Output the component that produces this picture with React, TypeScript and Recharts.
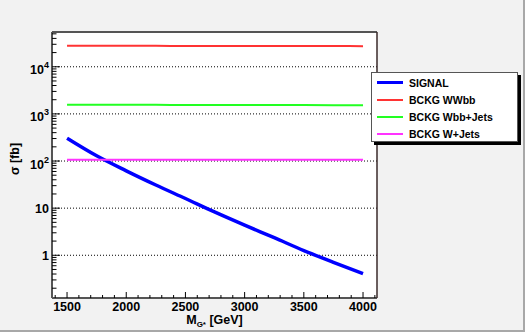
import React from 'react';
import { LineChart, Line, XAxis, YAxis, CartesianGrid, ReferenceLine, Legend } from 'recharts';

const masses = [1500, 1750, 2000, 2250, 2500, 2750, 3000, 3250, 3500, 3750, 4000];
const signal = [305, 129, 62, 31, 16, 8.2, 4.35, 2.36, 1.26, 0.71, 0.41];
const bckgWWbb = [28000, 27900, 27800, 27800, 27700, 27700, 27600, 27600, 27500, 27500, 27400];
const bckgWbbJets = [1570, 1565, 1560, 1555, 1550, 1550, 1545, 1540, 1540, 1535, 1530];
const bckgWJets = [106, 106, 106, 106, 106, 106, 106, 106, 106, 106, 106];

const xMajorTicks = [1500, 2000, 2500, 3000, 3500, 4000];
const xMinorTicks = [1400, 1600, 1700, 1800, 1900, 2100, 2200, 2300, 2400, 2600, 2700, 2800, 2900, 3100, 3200, 3300, 3400, 3600, 3700, 3800, 3900, 4100];
const yMajorTicks = [1, 10, 100, 1000, 10000];
const yMajorBase = ['1', '10', '10', '10', '10'];
const yMajorExp = ['', '', '2', '3', '4'];
const yDecades = [0.1, 1, 10, 100, 1000, 10000];
const yMultipliers = [2, 3, 4, 5, 6, 7, 8, 9];

const xDomain = [1373, 4118];
const yDomain = [0.124, 54700];

const yMinorTicks = yDecades
  .flatMap((d) => yMultipliers.map((k) => d * k))
  .filter((v) => v > yDomain[0] && v < yDomain[1]);

const series = [
  { key: 'signal', name: 'SIGNAL', color: '#0000ff', width: 3.5 },
  { key: 'wwbb', name: 'BCKG WWbb', color: '#ff3333', width: 2 },
  { key: 'wbbjets', name: 'BCKG Wbb+Jets', color: '#22ff22', width: 2 },
  { key: 'wjets', name: 'BCKG W+Jets', color: '#ff33ff', width: 2 },
];

const data = masses.map((m, i) => ({
  mass: m,
  signal: signal[i],
  wwbb: bckgWWbb[i],
  wbbjets: bckgWbbJets[i],
  wjets: bckgWJets[i],
}));

const FONT = '"Liberation Sans", Arial, Helvetica, sans-serif';

const PLOT_LEFT = 52;
const PLOT_BOTTOM = 298;

const YTick = (props: any) => {
  const { y, payload } = props;
  const x = PLOT_LEFT;
  const idx = yMajorTicks.indexOf(payload.value);
  const major = idx >= 0;
  const hasExp = major && yMajorExp[idx] !== '';
  return (
    <g>
      <line x1={x} x2={x + (major ? 8 : 4.5)} y1={y} y2={y} stroke="#000" strokeWidth={1} />
      {major && (
        <text
          x={x - 3}
          y={y + (hasExp ? 7.5 : 4.5)}
          textAnchor="end"
          fontFamily={FONT}
          fontWeight="bold"
          fontSize={12.5}
          fill="#000"
        >
          <tspan>{yMajorBase[idx]}</tspan>
          {hasExp && (
            <tspan dy={-6} fontSize={9}>
              {yMajorExp[idx]}
            </tspan>
          )}
        </text>
      )}
    </g>
  );
};

const XTick = (props: any) => {
  const { x, payload } = props;
  const y = PLOT_BOTTOM;
  const major = xMajorTicks.indexOf(payload.value) >= 0;
  return (
    <g>
      <line x1={x} x2={x} y1={y} y2={y - (major ? 6 : 3)} stroke="#000" strokeWidth={1} />
      {major && (
        <text
          x={x}
          y={y + 13}
          textAnchor="middle"
          fontFamily={FONT}
          fontWeight="bold"
          fontSize={12.5}
          fill="#000"
        >
          {payload.value}
        </text>
      )}
    </g>
  );
};

const XLabel = (props: any) => {
  const vb = props.viewBox || {};
  const cx = vb.x + vb.width / 2;
  return (
    <text x={cx} y={PLOT_BOTTOM + 25.5} textAnchor="middle" fontFamily={FONT} fontWeight="bold" fontSize={12.5} fill="#000">
      <tspan>M</tspan>
      <tspan dy={3.5} fontSize={8}>G*</tspan>
      <tspan dy={-3.5}> [GeV]</tspan>
    </text>
  );
};

const YLabel = () => {
  const x = 19;
  const y = 159;
  return (
    <text
      x={x}
      y={y}
      transform={`rotate(-90 ${x} ${y})`}
      textAnchor="middle"
      fontFamily={FONT}
      fontWeight="bold"
      fontSize={12.5}
      fill="#000"
    >
      σ [fb]
    </text>
  );
};

const LegendBox = () => (
  <div
    style={{
      position: 'relative',
      width: 147,
      height: 70,
      boxSizing: 'border-box',
      background: '#fff',
      border: '1px solid #555',
      boxShadow: '3px 3px 0 #000',
      fontFamily: FONT,
      fontWeight: 'bold',
      fontSize: 10.5,
    }}
  >
    {series.map((s, i) => (
      <div key={s.key} style={{ position: 'absolute', left: 0, top: 9.5 + i * 17.2 - 7, height: 14, width: '100%' }}>
        <div
          style={{
            position: 'absolute',
            left: 5,
            top: 7 - s.width / 2,
            width: 26,
            height: s.width,
            background: s.color,
          }}
        />
        <div style={{ position: 'absolute', left: 37, top: 0, lineHeight: '14px', color: '#000', whiteSpace: 'nowrap' }}>
          {s.name}
        </div>
      </div>
    ))}
  </div>
);

export default function App() {
  return (
    <div style={{ position: 'absolute', left: 0, top: 0, width: 525, height: 332, background: '#f2f2f2', overflow: 'hidden' }}>
      <LineChart width={525} height={332} data={data} margin={{ left: 42, top: 22, right: 138, bottom: 24 }}>
        <CartesianGrid fill="#ffffff" horizontal={false} vertical={false} />
        <XAxis
          dataKey="mass"
          type="number"
          domain={xDomain}
          allowDataOverflow
          ticks={[...xMajorTicks, ...xMinorTicks]}
          interval={0}
          height={10}
          tickSize={0}
          tickMargin={0}
          tick={<XTick />}
          axisLine={{ stroke: '#555', strokeWidth: 2 }}
          label={<XLabel />}
        />
        <XAxis
          xAxisId="top"
          orientation="top"
          dataKey="mass"
          type="number"
          domain={xDomain}
          allowDataOverflow
          height={10}
          tick={false}
          tickLine={false}
          axisLine={{ stroke: '#555', strokeWidth: 2 }}
        />
        <YAxis
          scale="log"
          type="number"
          domain={yDomain}
          allowDataOverflow
          ticks={[...yMajorTicks, ...yMinorTicks]}
          interval={0}
          width={10}
          tickSize={0}
          tickMargin={0}
          tick={<YTick />}
          axisLine={{ stroke: '#555', strokeWidth: 2 }}
          label={<YLabel />}
        />
        <YAxis
          yAxisId="right"
          orientation="right"
          scale="log"
          type="number"
          domain={yDomain}
          allowDataOverflow
          width={10}
          tick={false}
          tickLine={false}
          axisLine={{ stroke: '#3a2a2a', strokeWidth: 1.5 }}
        />
        {yMajorTicks.map((v) => (
          <ReferenceLine key={v} y={v} stroke="#000" strokeWidth={1} strokeDasharray="1 2" />
        ))}
        {series.map((s) => (
          <Line
            key={s.key}
            dataKey={s.key}
            name={s.name}
            stroke={s.color}
            strokeWidth={s.width}
            dot={false}
            type="monotone"
            isAnimationActive={false}
          />
        ))}
        <Legend
          layout="horizontal"
          verticalAlign="middle"
          align="center"
          content={() => <LegendBox />}
          wrapperStyle={{ position: 'absolute', left: 371, top: 72, width: 147, height: 70, margin: 0 }}
        />
      </LineChart>
      <div style={{ position: 'absolute', right: 0, top: 0, width: 2, height: 332, background: '#a8a8a8' }} />
      <div style={{ position: 'absolute', left: 0, bottom: 0, width: 525, height: 2, background: '#a8a8a8' }} />
    </div>
  );
}
